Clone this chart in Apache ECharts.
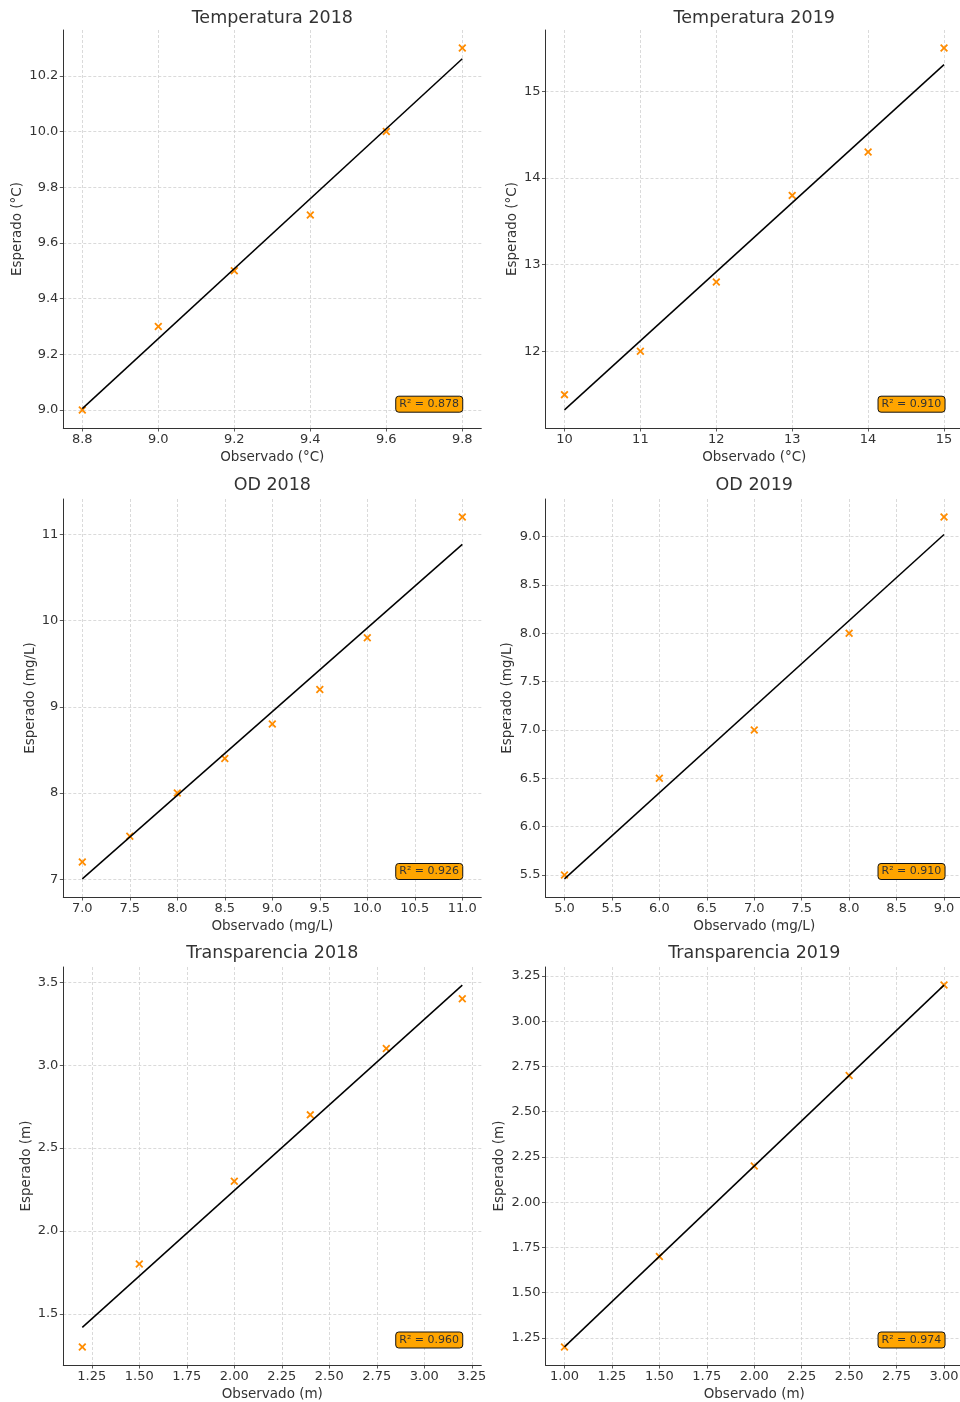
<!DOCTYPE html>
<html>
<head>
<meta charset="utf-8" />
<script src="https://cdn.jsdelivr.net/npm/echarts@6/dist/echarts.min.js"></script>
<style>
    html, body { margin: 0; padding: 0; background: #fff; }
    #main { width: 960px; height: 1402px; }
</style>
</head>
<body>
<div id="main"></div>
<script>
    // Temperatura 2018
    var tempObs2018 = [8.8, 9.0, 9.2, 9.4, 9.6, 9.8];
    var tempEsp2018 = [9.0, 9.3, 9.5, 9.7, 10.0, 10.3];
    var tempXTicks2018 = ['8.8', '9.0', '9.2', '9.4', '9.6', '9.8'];
    var tempYTicks2018 = ['9.0', '9.2', '9.4', '9.6', '9.8', '10.0', '10.2'];

    // Temperatura 2019
    var tempObs2019 = [10, 11, 12, 13, 14, 15];
    var tempEsp2019 = [11.5, 12.0, 12.8, 13.8, 14.3, 15.5];
    var tempXTicks2019 = ['10', '11', '12', '13', '14', '15'];
    var tempYTicks2019 = ['12', '13', '14', '15'];

    // OD 2018
    var odObs2018 = [7.0, 7.5, 8.0, 8.5, 9.0, 9.5, 10.0, 11.0];
    var odEsp2018 = [7.2, 7.5, 8.0, 8.4, 8.8, 9.2, 9.8, 11.2];
    var odXTicks2018 = ['7.0', '7.5', '8.0', '8.5', '9.0', '9.5', '10.0', '10.5', '11.0'];
    var odYTicks2018 = ['7', '8', '9', '10', '11'];

    // OD 2019
    var odObs2019 = [5.0, 6.0, 7.0, 8.0, 9.0];
    var odEsp2019 = [5.5, 6.5, 7.0, 8.0, 9.2];
    var odXTicks2019 = ['5.0', '5.5', '6.0', '6.5', '7.0', '7.5', '8.0', '8.5', '9.0'];
    var odYTicks2019 = ['5.5', '6.0', '6.5', '7.0', '7.5', '8.0', '8.5', '9.0'];

    // Transparencia 2018
    var trObs2018 = [1.2, 1.5, 2.0, 2.4, 2.8, 3.2];
    var trEsp2018 = [1.3, 1.8, 2.3, 2.7, 3.1, 3.4];
    var trXTicks2018 = ['1.25', '1.50', '1.75', '2.00', '2.25', '2.50', '2.75', '3.00', '3.25'];
    var trYTicks2018 = ['1.5', '2.0', '2.5', '3.0', '3.5'];

    // Transparencia 2019
    var trObs2019 = [1.0, 1.5, 2.0, 2.5, 3.0];
    var trEsp2019 = [1.2, 1.7, 2.2, 2.7, 3.2];
    var trXTicks2019 = ['1.00', '1.25', '1.50', '1.75', '2.00', '2.25', '2.50', '2.75', '3.00'];
    var trYTicks2019 = ['1.25', '1.50', '1.75', '2.00', '2.25', '2.50', '2.75', '3.00', '3.25'];

    var titles = ['Temperatura 2018', 'Temperatura 2019', 'OD 2018', 'OD 2019', 'Transparencia 2018', 'Transparencia 2019'];
    var r2Values = ['0.878', '0.910', '0.926', '0.910', '0.960', '0.974'];
    var xNames = ['Observado (°C)', 'Observado (°C)', 'Observado (mg/L)', 'Observado (mg/L)', 'Observado (m)', 'Observado (m)'];
    var yNames = ['Esperado (°C)', 'Esperado (°C)', 'Esperado (mg/L)', 'Esperado (mg/L)', 'Esperado (m)', 'Esperado (m)'];

    var panels = [
        { obs: tempObs2018, esp: tempEsp2018, xTicks: tempXTicks2018, yTicks: tempYTicks2018, yNameGap: 39 },
        { obs: tempObs2019, esp: tempEsp2019, xTicks: tempXTicks2019, yTicks: tempYTicks2019, yNameGap: 26.5 },
        { obs: odObs2018, esp: odEsp2018, xTicks: odXTicks2018, yTicks: odYTicks2018, yNameGap: 26.3 },
        { obs: odObs2019, esp: odEsp2019, xTicks: odXTicks2019, yTicks: odYTicks2019, yNameGap: 30.6 },
        { obs: trObs2018, esp: trEsp2018, xTicks: trXTicks2018, yTicks: trYTicks2018, yNameGap: 30 },
        { obs: trObs2019, esp: trEsp2019, xTicks: trXTicks2019, yTicks: trYTicks2019, yNameGap: 39 }
    ];

    var FONT = '"DejaVu Sans", sans-serif';
    var TXT = '#333';
    var colLeft = [63.3, 545.5];
    var colWidth = [418, 417.5];
    var rowTop = [30, 499, 967];
    var rowHeight = 398;
    var titleTop = [9, 476, 944.5];
    var boxRight = [497, 14.7];
    var boxBottom = [989.3, 522, 53.5];

    // "x" marker
    var xMark = 'path://M0,1.6L1.6,0L5,3.4L8.4,0L10,1.6L6.6,5L10,8.4L8.4,10L5,6.6L1.6,10L0,8.4L3.4,5Z';

    function decOf(labels) {
        var s = labels[0];
        return s.indexOf('.') >= 0 ? s.split('.')[1].length : 0;
    }

    // least squares fit, used for the black line
    function fit(xs, ys) {
        var n = xs.length, mx = 0, my = 0;
        for (var i = 0; i < n; i++) { mx += xs[i]; my += ys[i]; }
        mx /= n; my /= n;
        var sxy = 0, sxx = 0;
        for (var i = 0; i < n; i++) { sxy += (xs[i] - mx) * (ys[i] - my); sxx += (xs[i] - mx) * (xs[i] - mx); }
        var b = sxy / sxx;
        return function (x) { return my + b * (x - mx); };
    }

    var option = {
        backgroundColor: '#fff',
        animation: false,
        title: [],
        grid: [],
        xAxis: [],
        yAxis: [],
        series: []
    };

    panels.forEach(function (p, i) {
        var col = i % 2, row = Math.floor(i / 2);
        var f = fit(p.obs, p.esp);
        var x0 = Math.min.apply(null, p.obs), x1 = Math.max.apply(null, p.obs);
        var lineData = [[x0, f(x0)], [x1, f(x1)]];
        var ys = p.esp.concat([f(x0), f(x1)]);
        var y0 = Math.min.apply(null, ys), y1 = Math.max.apply(null, ys);
        var dx = (x1 - x0) * 0.05, dy = (y1 - y0) * 0.05;
        var xd = decOf(p.xTicks), yd = decOf(p.yTicks);

        option.title.push({
            text: titles[i],
            left: colLeft[col] + colWidth[col] / 2,
            top: titleTop[row],
            textAlign: 'center',
            padding: 0,
            textStyle: { fontFamily: FONT, fontSize: 17.5, fontWeight: 'normal', color: TXT }
        });
        option.title.push({
            text: 'R² = ' + r2Values[i],
            right: boxRight[col],
            bottom: boxBottom[row],
            padding: [3, 4, 3, 4],
            backgroundColor: '#FFA500',
            borderColor: '#111',
            borderWidth: 1,
            borderRadius: 3,
            textStyle: { fontFamily: FONT, fontSize: 11, fontWeight: 'normal', color: TXT }
        });

        option.grid.push({
            left: colLeft[col],
            top: rowTop[row],
            width: colWidth[col],
            height: rowHeight,
            containLabel: false,
            outerBoundsMode: 'none'
        });

        var axisCommon = {
            axisLine: { show: true, onZero: false, lineStyle: { color: '#333', width: 1 } },
            axisTick: { show: true, inside: false, length: 3.5, lineStyle: { color: '#333', width: 0.8 } },
            splitLine: { show: true, lineStyle: { color: '#d0d0d0', width: 0.8, type: [3, 2] } },
            nameLocation: 'middle',
            nameMoveOverlap: false,
            nameTextStyle: { fontFamily: FONT, fontSize: 13.5, color: TXT }
        };

        option.xAxis.push(Object.assign({}, axisCommon, {
            type: 'value',
            gridIndex: i,
            min: x0 - dx,
            max: x1 + dx,
            name: xNames[i],
            nameGap: 22,
            axisTick: Object.assign({}, axisCommon.axisTick, { customValues: p.xTicks.map(Number) }),
            axisLabel: {
                customValues: p.xTicks.map(Number),
                margin: 5,
                fontFamily: FONT, fontSize: 13, color: TXT,
                formatter: function (v) { return Number(v).toFixed(xd); }
            }
        }));
        option.yAxis.push(Object.assign({}, axisCommon, {
            type: 'value',
            gridIndex: i,
            min: y0 - dy,
            max: y1 + dy,
            name: yNames[i],
            nameGap: p.yNameGap,
            nameRotate: 90,
            axisTick: Object.assign({}, axisCommon.axisTick, { customValues: p.yTicks.map(Number) }),
            axisLabel: {
                customValues: p.yTicks.map(Number),
                margin: 5,
                fontFamily: FONT, fontSize: 13, color: TXT,
                formatter: function (v) { return Number(v).toFixed(yd); }
            }
        }));

        option.series.push({
            type: 'scatter',
            xAxisIndex: i,
            yAxisIndex: i,
            symbol: xMark,
            symbolSize: 8,
            itemStyle: { color: '#FF8C00', opacity: 1 },
            z: 2,
            data: p.obs.map(function (x, k) { return [x, p.esp[k]]; })
        });
        option.series.push({
            type: 'line',
            xAxisIndex: i,
            yAxisIndex: i,
            showSymbol: false,
            symbol: 'none',
            lineStyle: { color: '#000', width: 1.5 },
            z: 3,
            data: lineData
        });
    });

    var chart = echarts.init(document.getElementById('main'), null, { renderer: 'canvas' });
    chart.setOption(option);
</script>
</body>
</html>
